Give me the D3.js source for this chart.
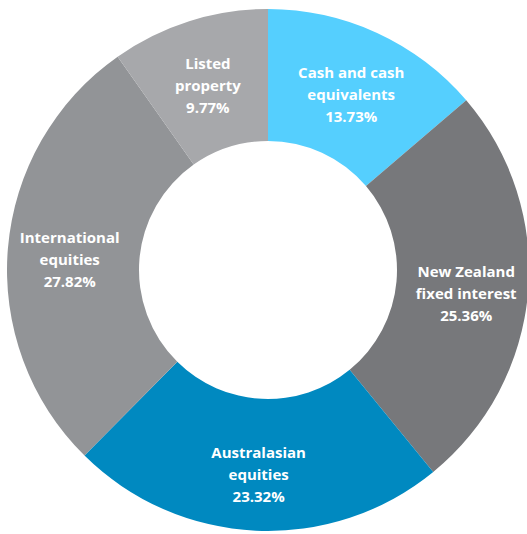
<!DOCTYPE html>
<html>
<head>
<meta charset="utf-8">
<script src="https://cdn.jsdelivr.net/npm/d3@7"></script>
<style>
  html, body { margin: 0; padding: 0; background: #fff; }
  svg { display: block; }
</style>
</head>
<body>
<div id="chart"></div>
<script>
// slice order runs clockwise from 12 o'clock
const categories = [
  ['Cash and cash', 'equivalents'],
  ['New Zealand', 'fixed interest'],
  ['Australasian', 'equities'],
  ['International', 'equities'],
  ['Listed', 'property']
];
const shares = [13.73, 25.36, 23.32, 27.82, 9.77];
const colours = ['#55cffe', '#77787b', '#0089c0', '#929497', '#a7a8ab'];

const width = 527;
const height = 534;
const cx = 268;
const cy = 270;
const radius = 261;
const innerRadius = 129;

const data = categories.map((c, i) => ({ lines: c, value: shares[i], colour: colours[i] }));

const svg = d3.select('#chart')
  .append('svg')
  .attr('width', width)
  .attr('height', height);

const g = svg.append('g')
  .attr('transform', `translate(${cx},${cy})`);

const pie = d3.pie()
  .value(d => d.value)
  .sort(null);

const arc = d3.arc()
  .innerRadius(innerRadius)
  .outerRadius(radius);

// labels sit a bit beyond the ring's midline
const labelArc = d3.arc()
  .innerRadius(199)
  .outerRadius(199);

const arcs = pie(data);

g.selectAll('.slice')
  .data(arcs)
  .enter()
  .append('path')
  .attr('class', 'slice')
  .attr('d', arc)
  .attr('fill', d => d.data.colour);

const lineH = 22;

const labels = g.selectAll('.label')
  .data(arcs)
  .enter()
  .append('text')
  .attr('class', 'label')
  .attr('transform', d => {
    const [x, y] = labelArc.centroid(d);
    return `translate(${x},${y + 7})`;
  })
  .attr('text-anchor', 'middle')
  .attr('font-family', '"Open Sans", sans-serif')
  .attr('font-weight', 700)
  .attr('font-size', '15px')
  .attr('fill', '#fff');

labels.each(function(d) {
  const t = d3.select(this);
  const rows = d.data.lines.concat([d.data.value.toFixed(2) + '%']);
  rows.forEach((r, i) => {
    t.append('tspan')
      .attr('x', 0)
      .attr('y', (i - (rows.length - 1) / 2) * lineH)
      .attr('dominant-baseline', 'middle')
      .text(r);
  });
});
</script>
</body>
</html>
